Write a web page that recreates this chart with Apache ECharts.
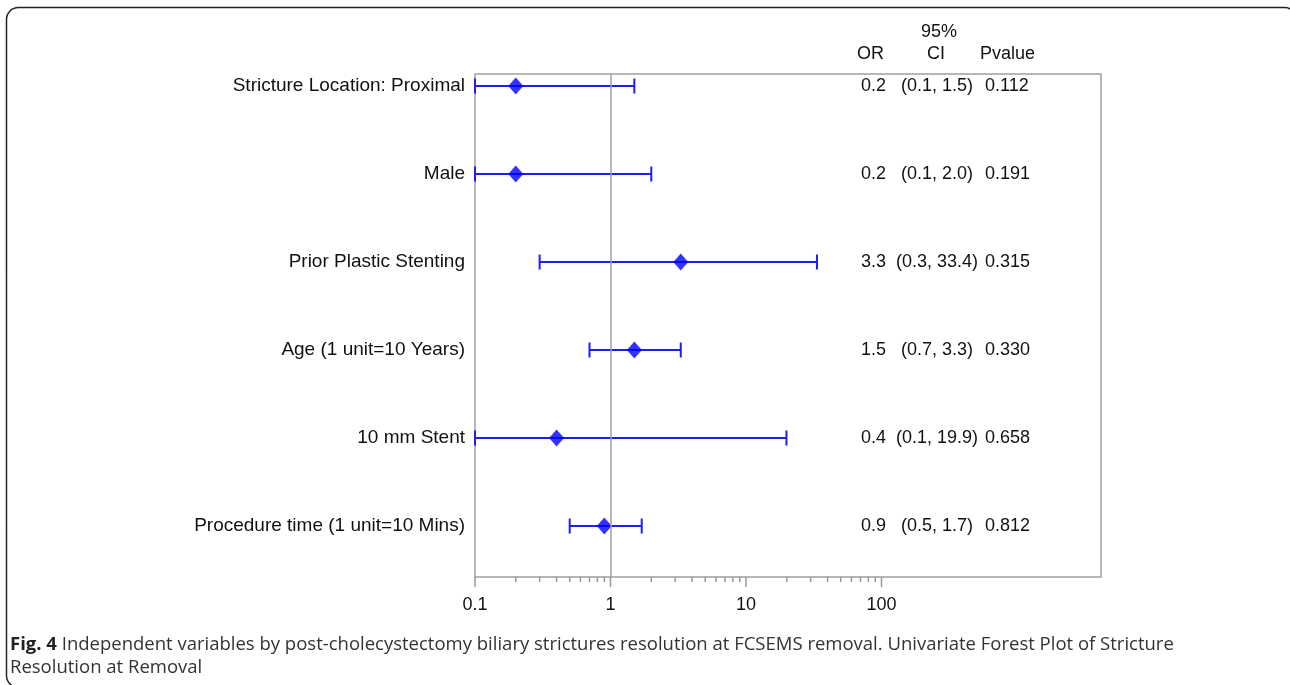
<!DOCTYPE html>
<html>
<head>
<meta charset="utf-8">
<script src="https://cdn.jsdelivr.net/npm/echarts@6/dist/echarts.min.js"></script>
<style>html,body{margin:0;padding:0;background:#fff}#c{width:1290px;height:685px}</style>
</head>
<body>
<div id="c"></div>
<script>
// ---- data ----
const categories = ['Stricture Location: Proximal', 'Male', 'Prior Plastic Stenting', 'Age (1 unit=10 Years)', '10 mm Stent', 'Procedure time (1 unit=10 Mins)'];
const oddsRatio = [0.2, 0.2, 3.3, 1.5, 0.4, 0.9];
const ciLower = [0.1, 0.1, 0.3, 0.7, 0.1, 0.5];
const ciUpper = [1.5, 2.0, 33.4, 3.3, 19.9, 1.7];
const pValues = ['0.112', '0.191', '0.315', '0.330', '0.658', '0.812'];
const majorTicks = [0.1, 1, 10, 100];
const minorTicks = [0.2, 0.3, 0.4, 0.5, 0.6, 0.7, 0.8, 0.9, 2, 3, 4, 5, 6, 7, 8, 9, 20, 30, 40, 50, 60, 70, 80, 90];
const headers = { or: 'OR', ci1: '95%', ci2: 'CI', p: 'Pvalue' };
const captionBold = 'Fig. 4';
const captionLine1 = ' Independent variables by post-cholecystectomy biliary strictures resolution at FCSEMS removal. Univariate Forest Plot of Stricture';
const captionLine2 = 'Resolution at Removal';

const chart = echarts.init(document.getElementById('c'), null, { renderer: 'canvas' });
const XMIN = 0.1, XMAX = 4169;
const LINE = '#1f1fe8';
const TXT = '#111';
const FONT = 'Liberation Sans, Arial, sans-serif';
const CAPFONT = 'Open Sans';

const ciText = ciLower.map((l, i) => '(' + l.toFixed(1) + ', ' + ciUpper[i].toFixed(1) + ')');

function tableAxis(offset, align, fmt) {
  return {
    type: 'category', gridIndex: 0, data: categories, inverse: true, position: 'right', offset: offset,
    axisLine: { show: false }, axisTick: { show: false }, splitLine: { show: false },
    axisLabel: { interval: 0, margin: 0, align: align, fontSize: 18, color: TXT, fontFamily: FONT, formatter: fmt }
  };
}

const option = {
  animation: false,
  backgroundColor: '#fff',
  grid: [
    { left: 475, right: 189, top: 42, bottom: 115, show: false },
    { left: 475, right: 189, top: 74, bottom: 108, show: true, borderColor: '#a0a0a0', borderWidth: 1.5, backgroundColor: 'transparent' }
  ],
  xAxis: [
    { type: 'log', logBase: 10, gridIndex: 0, min: XMIN, max: XMAX, show: false },
    { type: 'log', logBase: 10, gridIndex: 1, min: XMIN, max: XMAX,
      axisLine: { show: false }, axisTick: { show: false }, splitLine: { show: false },
      axisLabel: { show: true, margin: 19, fontSize: 18, color: TXT, fontFamily: FONT, showMaxLabel: false,
        formatter: v => (v > 100.5 ? '' : String(Number(Number(v).toPrecision(2)))) } }
  ],
  yAxis: [
    { type: 'category', gridIndex: 0, data: categories, inverse: true,
      axisLine: { show: false }, axisTick: { show: false }, splitLine: { show: false },
      axisLabel: { interval: 0, margin: 10, fontSize: 19, color: TXT, fontFamily: FONT } },
    tableAxis(-215, 'right', (v, i) => oddsRatio[i].toFixed(1)),
    tableAxis(-164, 'center', (v, i) => ciText[i]),
    tableAxis(-116, 'left', (v, i) => pValues[i]),
    { type: 'value', gridIndex: 1, min: 0, max: 1, show: false }
  ],
  graphic: [
    { type: 'rect', silent: true, shape: { x: 6.5, y: 7.5, width: 1290, height: 680, r: 12 }, style: { fill: 'none', stroke: '#222', lineWidth: 1.5 } },
    { type: 'text', x: 884, y: 54, style: { text: headers.or, align: 'right', verticalAlign: 'middle', font: '18px ' + FONT, fill: TXT } },
    { type: 'text', x: 939, y: 32, style: { text: headers.ci1, align: 'center', verticalAlign: 'middle', font: '18px ' + FONT, fill: TXT } },
    { type: 'text', x: 936, y: 54, style: { text: headers.ci2, align: 'center', verticalAlign: 'middle', font: '18px ' + FONT, fill: TXT } },
    { type: 'text', x: 980, y: 54, style: { text: headers.p, align: 'left', verticalAlign: 'middle', font: '18px ' + FONT, fill: TXT } },
    { type: 'text', x: 10, y: 645, style: {
        text: '{b|' + captionBold + '}{n|' + captionLine1 + '}', verticalAlign: 'middle',
        rich: { b: { fontFamily: CAPFONT, fontWeight: 'bold', fontSize: 18.5, fill: '#222' },
                n: { fontFamily: CAPFONT, fontSize: 18.5, fill: '#333' } } } },
    { type: 'text', x: 10, y: 668, style: { text: captionLine2, verticalAlign: 'middle', font: '18.5px ' + CAPFONT, fill: '#333' } }
  ],
  series: [
    {
      type: 'custom', xAxisIndex: 1, yAxisIndex: 4, silent: true,
      data: majorTicks.map(v => [v, 1]).concat(minorTicks.map(v => [v, 0])),
      encode: { x: 0 },
      renderItem: (params, api) => {
        const p = api.coord([api.value(0), 0]);
        const len = api.value(1) ? 10 : 5;
        return { type: 'line', shape: { x1: p[0], y1: p[1], x2: p[0], y2: p[1] + len }, style: { stroke: '#999', lineWidth: 1.5 } };
      },
      markLine: { silent: true, symbol: 'none', label: { show: false },
        lineStyle: { color: '#a0a0a0', type: 'solid', width: 1.5 }, data: [{ xAxis: 1 }] }
    },
    {
      type: 'custom', xAxisIndex: 0, yAxisIndex: 0, silent: true,
      data: categories.map((c, i) => [ciLower[i], ciUpper[i], i]),
      encode: { x: [0, 1], y: 2 },
      renderItem: (params, api) => {
        const a = api.coord([api.value(0), api.value(2)]);
        const b = api.coord([api.value(1), api.value(2)]);
        const h = 7.5;
        const st = { stroke: LINE, lineWidth: 2 };
        return { type: 'group', children: [
          { type: 'line', shape: { x1: a[0], y1: a[1], x2: b[0], y2: b[1] }, style: st },
          { type: 'line', shape: { x1: a[0], y1: a[1] - h, x2: a[0], y2: a[1] + h }, style: st },
          { type: 'line', shape: { x1: b[0], y1: b[1] - h, x2: b[0], y2: b[1] + h }, style: st }
        ] };
      }
    },
    {
      type: 'scatter', xAxisIndex: 0, yAxisIndex: 0, silent: true,
      symbol: 'diamond', symbolSize: [15, 17],
      itemStyle: { color: '#0000ff' },
      data: oddsRatio.map((v, i) => [v, i])
    }
  ]
};
chart.setOption(option);
</script>
</body>
</html>
